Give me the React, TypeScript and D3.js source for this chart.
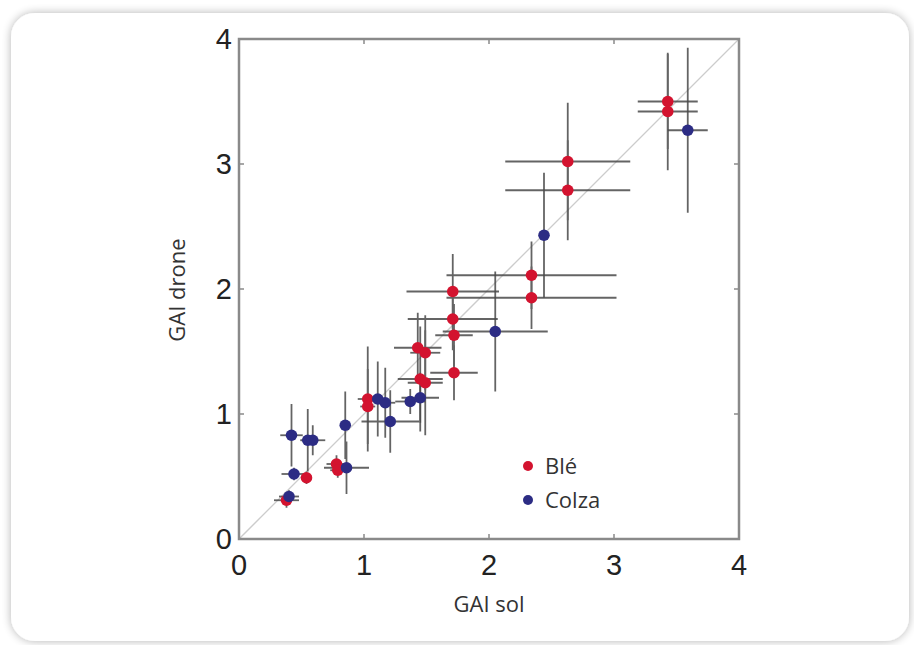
import React from "react";
import * as d3 from "d3";

// Blé (wheat): [x, y, xerr, yerr]
const bleX = [0.38, 0.54, 0.78, 0.79, 1.03, 1.03, 1.43, 1.45, 1.49, 1.49, 1.71, 1.71, 1.72, 1.72, 2.34, 2.34, 2.63, 2.63, 3.43, 3.43];
const bleY = [0.31, 0.49, 0.60, 0.55, 1.12, 1.06, 1.53, 1.28, 1.49, 1.25, 1.98, 1.76, 1.63, 1.33, 2.11, 1.93, 3.02, 2.79, 3.50, 3.42];
const bleXErr = [0.1, 0.04, 0.08, 0.06, 0.08, 0.06, 0.19, 0.18, 0.12, 0.14, 0.37, 0.36, 0.15, 0.19, 0.68, 0.68, 0.5, 0.5, 0.24, 0.24];
const bleYErr = [0.06, 0.05, 0.07, 0.06, 0.42, 0.3, 0.28, 0.42, 0.3, 0.42, 0.3, 0.25, 0.25, 0.22, 0.27, 0.25, 0.47, 0.4, 0.38, 0.47];

// Colza (rapeseed)
const colzaX = [0.40, 0.42, 0.44, 0.55, 0.59, 0.85, 0.86, 1.11, 1.17, 1.21, 1.37, 1.45, 2.05, 2.44, 3.59];
const colzaY = [0.34, 0.83, 0.52, 0.79, 0.79, 0.91, 0.57, 1.12, 1.09, 0.94, 1.10, 1.13, 1.66, 2.43, 3.27];
const colzaXErr = [0.08, 0.09, 0.1, 0.05, 0.1, 0.03, 0.18, 0.07, 0.08, 0.23, 0.12, 0.15, 0.42, 0.03, 0.16];
const colzaYErr = [0.05, 0.25, 0.05, 0.25, 0.12, 0.27, 0.21, 0.3, 0.28, 0.25, 0.1, 0.2, 0.48, 0.5, 0.66];

const ticks = [0, 1, 2, 3, 4];
const legendLabels = ["Blé", "Colza"];
const colors = ["#d3132f", "#2c2c84"];

export default function App() {
  const left = 239, right = 739, top = 39, bottom = 539;
  const x = d3.scaleLinear().domain([0, 4]).range([left, right]);
  const y = d3.scaleLinear().domain([0, 4]).range([bottom, top]);

  const series = [
    { xs: bleX, ys: bleY, xe: bleXErr, ye: bleYErr, color: colors[0] },
    { xs: colzaX, ys: colzaY, xe: colzaXErr, ye: colzaYErr, color: colors[1] },
  ];

  const tickFont = "'Liberation Sans', Arial, sans-serif";
  const labelFont = "'Open Sans', 'Noto Sans', sans-serif";

  return (
    <svg width={914} height={645} style={{ position: "absolute", left: 0, top: 0 }}>
      <defs>
        <filter id="sh" x="-5%" y="-5%" width="110%" height="110%">
          <feGaussianBlur in="SourceAlpha" stdDeviation="5" />
          <feComponentTransfer>
            <feFuncA type="linear" slope="0.3" />
          </feComponentTransfer>
          <feMerge>
            <feMergeNode />
            <feMergeNode in="SourceGraphic" />
          </feMerge>
        </filter>
      </defs>
      <rect x={0} y={0} width={914} height={645} fill="#ffffff" />
      <rect x={11} y={13} width={898} height={628} rx={24} fill="#ffffff" filter="url(#sh)" />

      {/* diagonal */}
      <line x1={x(0)} y1={y(0)} x2={x(4)} y2={y(4)} stroke="#cccccc" strokeWidth={1.3} />

      {/* error bars */}
      {series.map((s, si) => (
        <g key={"e" + si} stroke="#4a4a4a" strokeWidth={1.8} opacity={0.85}>
          {s.xs.map((v, i) => (
            <g key={i}>
              <line x1={x(v - s.xe[i])} x2={x(v + s.xe[i])} y1={y(s.ys[i])} y2={y(s.ys[i])} />
              <line x1={x(v)} x2={x(v)} y1={y(s.ys[i] - s.ye[i])} y2={y(s.ys[i] + s.ye[i])} />
            </g>
          ))}
        </g>
      ))}

      {/* points */}
      {series.map((s, si) => (
        <g key={"p" + si} fill={s.color}>
          {s.xs.map((v, i) => (
            <circle key={i} cx={x(v)} cy={y(s.ys[i])} r={5.8} />
          ))}
        </g>
      ))}

      {/* frame */}
      <rect x={left} y={top} width={right - left} height={bottom - top} fill="none" stroke="#8a8a8a" strokeWidth={2.5} />

      {/* ticks */}
      <g stroke="#8a8a8a" strokeWidth={1.5}>
        {ticks.slice(1, 4).map((t) => (
          <g key={t}>
            <line x1={x(t)} x2={x(t)} y1={bottom} y2={bottom - 5} />
            <line x1={x(t)} x2={x(t)} y1={top} y2={top + 5} />
            <line x1={left} x2={left + 5} y1={y(t)} y2={y(t)} />
            <line x1={right} x2={right - 5} y1={y(t)} y2={y(t)} />
          </g>
        ))}
      </g>

      {/* tick labels */}
      <g fontFamily={tickFont} fontSize={29} fill="#222">
        {ticks.map((t) => (
          <text key={"x" + t} x={x(t)} y={575} textAnchor="middle">{t}</text>
        ))}
        {ticks.map((t) => (
          <text key={"y" + t} x={232} y={y(t) + 10} textAnchor="end">{t}</text>
        ))}
      </g>

      {/* axis labels */}
      <text x={489} y={612} textAnchor="middle" fontFamily={labelFont} fontSize={22} fill="#333">GAI sol</text>
      <text transform={`translate(185,${290}) rotate(-90)`} textAnchor="middle" fontFamily={labelFont} fontSize={22} fill="#333">GAI drone</text>

      {/* legend */}
      {legendLabels.map((l, i) => (
        <g key={l}>
          <circle cx={528} cy={466 + i * 34} r={5} fill={colors[i]} />
          <text x={545} y={466 + i * 34 + 8} fontFamily={labelFont} fontSize={22} fill="#333">{l}</text>
        </g>
      ))}
    </svg>
  );
}
